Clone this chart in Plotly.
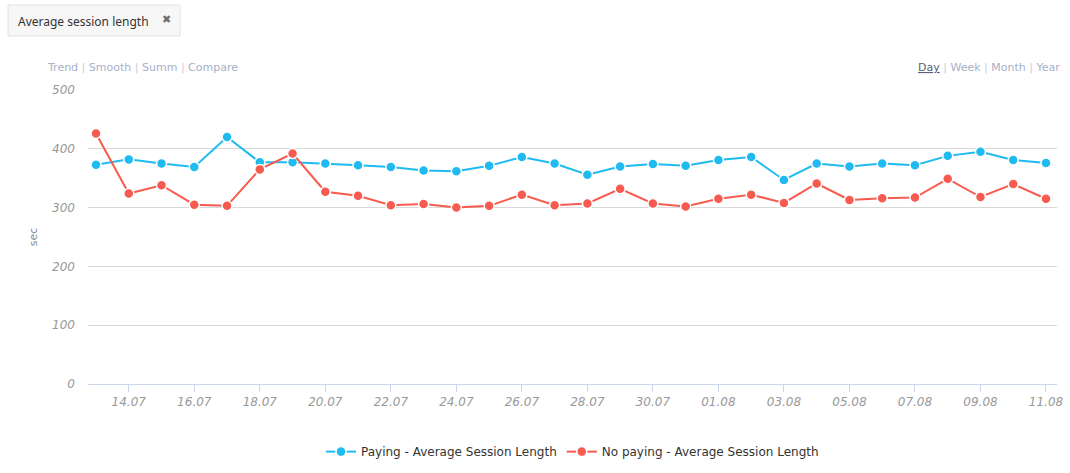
import plotly.graph_objects as go

dates = ["2015-07-%02d" % d for d in range(13, 32)] + ["2015-08-%02d" % d for d in range(1, 12)]
paying = [373, 382, 375, 369, 420, 377, 377, 375, 372, 369,
          363, 362, 371, 386, 375, 356, 370, 374, 371, 381,
          386, 347, 375, 370, 375, 372, 388, 395, 381, 376]
no_paying = [426, 324, 338, 305, 303, 365, 392, 327, 320, 304,
             306, 300, 303, 322, 304, 307, 332, 307, 302, 315,
             322, 308, 341, 313, 316, 317, 349, 318, 340, 315]

blue = "#1fbbf0"
red = "#f75b4f"
font_family = "DejaVu Sans"

fig = go.Figure()
fig.add_trace(go.Scatter(
    x=dates, y=paying, mode="lines+markers", name="Paying - Average Session Length",
    line=dict(color=blue, width=2),
    marker=dict(size=10, color=blue, line=dict(color="white", width=1.5)),
))
fig.add_trace(go.Scatter(
    x=dates, y=no_paying, mode="lines+markers", name="No paying - Average Session Length",
    line=dict(color=red, width=2),
    marker=dict(size=10, color=red, line=dict(color="white", width=1.5)),
))

fig.update_layout(
    width=1070, height=473,
    margin=dict(l=88, r=13, t=90, b=89, autoexpand=False),
    paper_bgcolor="white", plot_bgcolor="white",
    font=dict(family=font_family, color="#333333", size=12),
    showlegend=True,
    legend=dict(orientation="h", x=0.5, xanchor="center", y=-0.23, yanchor="middle",
                font=dict(size=12, color="#333333"), itemwidth=30,
                traceorder="normal"),
    xaxis=dict(
        type="date",
        range=["2015-07-12 18:08", "2015-08-11 08:04"],
        tick0="2015-07-14", dtick=2 * 86400000, tickformat="%d.%m",
        showgrid=False, showline=True, linecolor="#ccd6eb", linewidth=1,
        ticks="outside", ticklen=7, tickcolor="#ccd6eb", tickwidth=1,
        tickfont=dict(size=12, color="#999999", style="italic"),
        zeroline=False,
    ),
    yaxis=dict(
        range=[0, 500], dtick=100, tick0=0,
        showgrid=True, gridcolor="#d8d8d8", gridwidth=1,
        zeroline=False, showline=False, ticks="",
        ticklabelstandoff=12,
        tickfont=dict(size=12, color="#999999", style="italic"),
        title=dict(text="sec", font=dict(size=11, color="#888888"), standoff=12),
    ),
)

# Tag box at top left
fig.add_shape(type="rect", xref="paper", yref="paper",
              x0=(8 - 88) / 969, x1=(180 - 88) / 969,
              y0=(384 - 36) / 294, y1=(384 - 5) / 294,
              fillcolor="#f7f7f7", line=dict(color="#e2e2e2", width=1), layer="above")
fig.add_annotation(xref="paper", yref="paper", x=(16 - 88) / 969, y=(384 - 21) / 294,
                   text="Average session length", showarrow=False, xanchor="left", yanchor="middle",
                   font=dict(size=12, color="#333333", family="Noto Sans"))
fig.add_annotation(xref="paper", yref="paper", x=(166 - 88) / 969, y=(384 - 20) / 294,
                   text="✖", showarrow=False, xanchor="center", yanchor="middle",
                   font=dict(size=11, color="#707070", family=font_family))

ctrl = "#a7b0c8"
sep = "#c8ccd8"
left_txt = (f"Trend <span style='color:{sep}'>|</span> Smooth <span style='color:{sep}'>|</span> "
            f"Summ <span style='color:{sep}'>|</span> Compare")
fig.add_annotation(xref="paper", yref="paper", x=(45 - 88) / 969, y=(384 - 67) / 294,
                   text=left_txt, showarrow=False, xanchor="left", yanchor="middle",
                   font=dict(size=11, color=ctrl, family=font_family))
right_txt = (f"<span style='color:#5a6078'><u>Day</u></span> <span style='color:{sep}'>|</span> Week "
             f"<span style='color:{sep}'>|</span> Month <span style='color:{sep}'>|</span> Year")
fig.add_annotation(xref="paper", yref="paper", x=(1062 - 88) / 969, y=(384 - 67) / 294,
                   text=right_txt, showarrow=False, xanchor="right", yanchor="middle",
                   font=dict(size=11, color=ctrl, family=font_family))

fig.write_html("out.html", config={"displayModeBar": False},
               post_script="document.body.style.margin='0px';")
